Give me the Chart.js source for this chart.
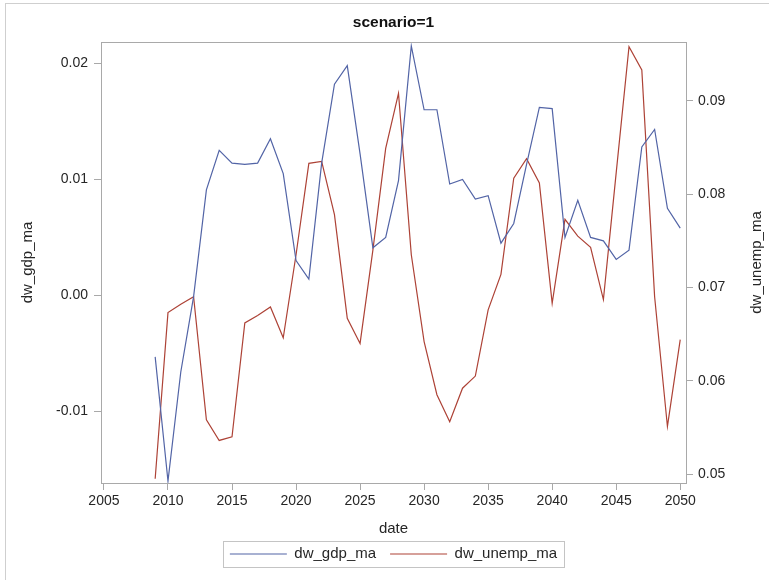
<!DOCTYPE html>
<html>
<head>
<meta charset="utf-8">
<script src="https://cdn.jsdelivr.net/npm/chart.js@4.4.1/dist/chart.umd.min.js"></script>
<style>
  html, body { margin: 0; padding: 0; background: #ffffff; }
  canvas { display: block; }
</style>
</head>
<body>
<canvas id="chart" width="769" height="580"></canvas>
<script>
// Yearly moving averages for scenario 1
const years = [
  2009, 2010, 2011, 2012, 2013, 2014, 2015, 2016, 2017, 2018,
  2019, 2020, 2021, 2022, 2023, 2024, 2025, 2026, 2027, 2028,
  2029, 2030, 2031, 2032, 2033, 2034, 2035, 2036, 2037, 2038,
  2039, 2040, 2041, 2042, 2043, 2044, 2045, 2046, 2047, 2048,
  2049, 2050
];
const dwGdpMa = [
  -0.0053, -0.0160, -0.0066, -0.0001, 0.0091, 0.0125, 0.0114, 0.0113, 0.0114, 0.0135,
  0.0105, 0.0030, 0.0014, 0.0114, 0.0182, 0.0198, 0.0122, 0.0041, 0.0050, 0.0099,
  0.0215, 0.0160, 0.0160, 0.0096, 0.0100, 0.0083, 0.0086, 0.0045, 0.0062, 0.0113,
  0.0162, 0.0161, 0.0050, 0.0082, 0.0050, 0.0047, 0.0031, 0.0039, 0.0128, 0.0143,
  0.0075, 0.0058
];
const dwUnempMa = [
  0.0495, 0.0673, 0.0682, 0.0690, 0.0558, 0.0536, 0.0540, 0.0662, 0.0670, 0.0679,
  0.0646, 0.0735, 0.0833, 0.0835, 0.0778, 0.0667, 0.0640, 0.0740, 0.0849, 0.0908,
  0.0735, 0.0642, 0.0585, 0.0556, 0.0592, 0.0605, 0.0676, 0.0714, 0.0817, 0.0838,
  0.0812, 0.0683, 0.0773, 0.0755, 0.0743, 0.0687, 0.0823, 0.0958, 0.0933, 0.0690,
  0.0551, 0.0644
];

// Axis ticks and labels
const dateTicks = [2005, 2010, 2015, 2020, 2025, 2030, 2035, 2040, 2045, 2050];
const gdpTicks = [-0.01, 0.00, 0.01, 0.02];
const unempTicks = [0.05, 0.06, 0.07, 0.08, 0.09];
const chartTitle = 'scenario=1';
const dateTitle = 'date';
const gdpTitle = 'dw_gdp_ma';
const unempTitle = 'dw_unemp_ma';

const FONT = '"Liberation Sans", Arial, Helvetica, sans-serif';
const TEXT = '#262626';
const FRAME = '#a9a9a9';
const GDP_COLOR = '#5264a6';
const UNEMP_COLOR = '#ad4236';

Chart.defaults.font.family = FONT;
Chart.defaults.color = TEXT;

const toPoints = (vals) => years.map((yr, i) => ({ x: yr, y: vals[i] }));
const fixedTicks = (list) => (scale) => { scale.ticks = list.map(v => ({ value: v })); };

// Outer border, plot frame, legend box and the right-hand axis title
const decorations = {
  id: 'decorations',
  beforeDraw(chart) {
    const ctx = chart.ctx;
    ctx.save();
    ctx.strokeStyle = '#cfcfcf';
    ctx.lineWidth = 1;
    ctx.strokeRect(5.5, 3.5, 800, 800);
    ctx.restore();
  },
  afterDraw(chart) {
    const ctx = chart.ctx;
    const a = chart.chartArea;
    ctx.save();
    ctx.strokeStyle = FRAME;
    ctx.lineWidth = 1;
    ctx.strokeRect(Math.round(a.left) + 0.5, Math.round(a.top) + 0.5,
                   Math.round(a.right - a.left), Math.round(a.bottom - a.top));

    // legend border
    const boxes = chart.legend.legendHitBoxes;
    if (boxes && boxes.length) {
      let l = Infinity, r = -Infinity, t = Infinity, b = -Infinity;
      boxes.forEach(h => {
        l = Math.min(l, h.left); r = Math.max(r, h.left + h.width);
        t = Math.min(t, h.top); b = Math.max(b, h.top + h.height);
      });
      ctx.strokeStyle = '#c4c4c4';
      ctx.strokeRect(Math.round(l - 7) + 0.5, Math.round(t - 5.5) + 0.5,
                     Math.round(r - l + 14), Math.round(b - t + 11));
    }

    // right axis title, reading bottom to top
    ctx.fillStyle = TEXT;
    ctx.font = '15px ' + FONT;
    ctx.textAlign = 'center';
    ctx.textBaseline = 'middle';
    ctx.translate(757, (a.top + a.bottom) / 2);
    ctx.rotate(-Math.PI / 2);
    ctx.fillText(unempTitle, 0, 0);
    ctx.restore();
  }
};

new Chart(document.getElementById('chart'), {
  type: 'line',
  data: {
    datasets: [
      {
        label: 'dw_gdp_ma',
        data: toPoints(dwGdpMa),
        yAxisID: 'yGdp',
        borderColor: GDP_COLOR,
        backgroundColor: GDP_COLOR,
        borderWidth: 1.2,
        pointRadius: 0,
        tension: 0,
        fill: false
      },
      {
        label: 'dw_unemp_ma',
        data: toPoints(dwUnempMa),
        yAxisID: 'yUnemp',
        borderColor: UNEMP_COLOR,
        backgroundColor: UNEMP_COLOR,
        borderWidth: 1.2,
        pointRadius: 0,
        tension: 0,
        fill: false
      }
    ]
  },
  options: {
    responsive: false,
    animation: false,
    devicePixelRatio: 1,
    layout: { padding: { left: 0, right: 0, top: 0, bottom: 17.5 } },
    plugins: {
      title: {
        display: true,
        text: chartTitle,
        fullSize: false,
        color: '#111111',
        font: { size: 15.5, weight: 'bold' },
        padding: { top: 13, bottom: 10.4 }
      },
      legend: {
        position: 'bottom',
        fullSize: false,
        maxHeight: 30,
        labels: {
          usePointStyle: true,
          pointStyle: 'line',
          pointStyleWidth: 57,
          boxHeight: 15,
          padding: 14,
          color: TEXT,
          font: { size: 15 }
        }
      },
      tooltip: { enabled: false }
    },
    scales: {
      x: {
        type: 'linear',
        position: 'bottom',
        min: 2004.77,
        max: 2050.45,
        afterBuildTicks: fixedTicks(dateTicks),
        afterFit(scale) { scale.height = 49.5; },
        border: { display: false },
        grid: { display: true, drawOnChartArea: false, drawTicks: true, tickLength: 7, color: FRAME },
        ticks: {
          autoSkip: false, maxRotation: 0, padding: 3, color: TEXT,
          font: { size: 14 },
          callback: (v) => String(v)
        },
        title: {
          display: true, text: dateTitle, color: TEXT,
          font: { size: 15 },
          padding: { top: 0, bottom: -5 }
        }
      },
      yGdp: {
        type: 'linear',
        position: 'left',
        min: -0.01617,
        max: 0.02184,
        afterBuildTicks: fixedTicks(gdpTicks),
        afterFit(scale) { scale.width = 101; },
        border: { display: false },
        grid: { display: true, drawOnChartArea: false, drawTicks: true, tickLength: 7, color: FRAME },
        ticks: {
          padding: 6, color: TEXT,
          font: { size: 14 },
          callback: (v) => Number(v).toFixed(2)
        },
        title: {
          display: true, text: gdpTitle, color: TEXT,
          font: { size: 15 },
          padding: { top: 19, bottom: 0 }
        }
      },
      yUnemp: {
        type: 'linear',
        position: 'right',
        min: 0.04904,
        max: 0.0963,
        afterBuildTicks: fixedTicks(unempTicks),
        afterFit(scale) { scale.width = 83; },
        border: { display: false },
        grid: { display: true, drawOnChartArea: false, drawTicks: true, tickLength: 7, color: FRAME },
        ticks: {
          padding: 5, color: TEXT,
          font: { size: 14 },
          callback: (v) => Number(v).toFixed(2)
        }
      }
    }
  },
  plugins: [decorations]
});
</script>
</body>
</html>
